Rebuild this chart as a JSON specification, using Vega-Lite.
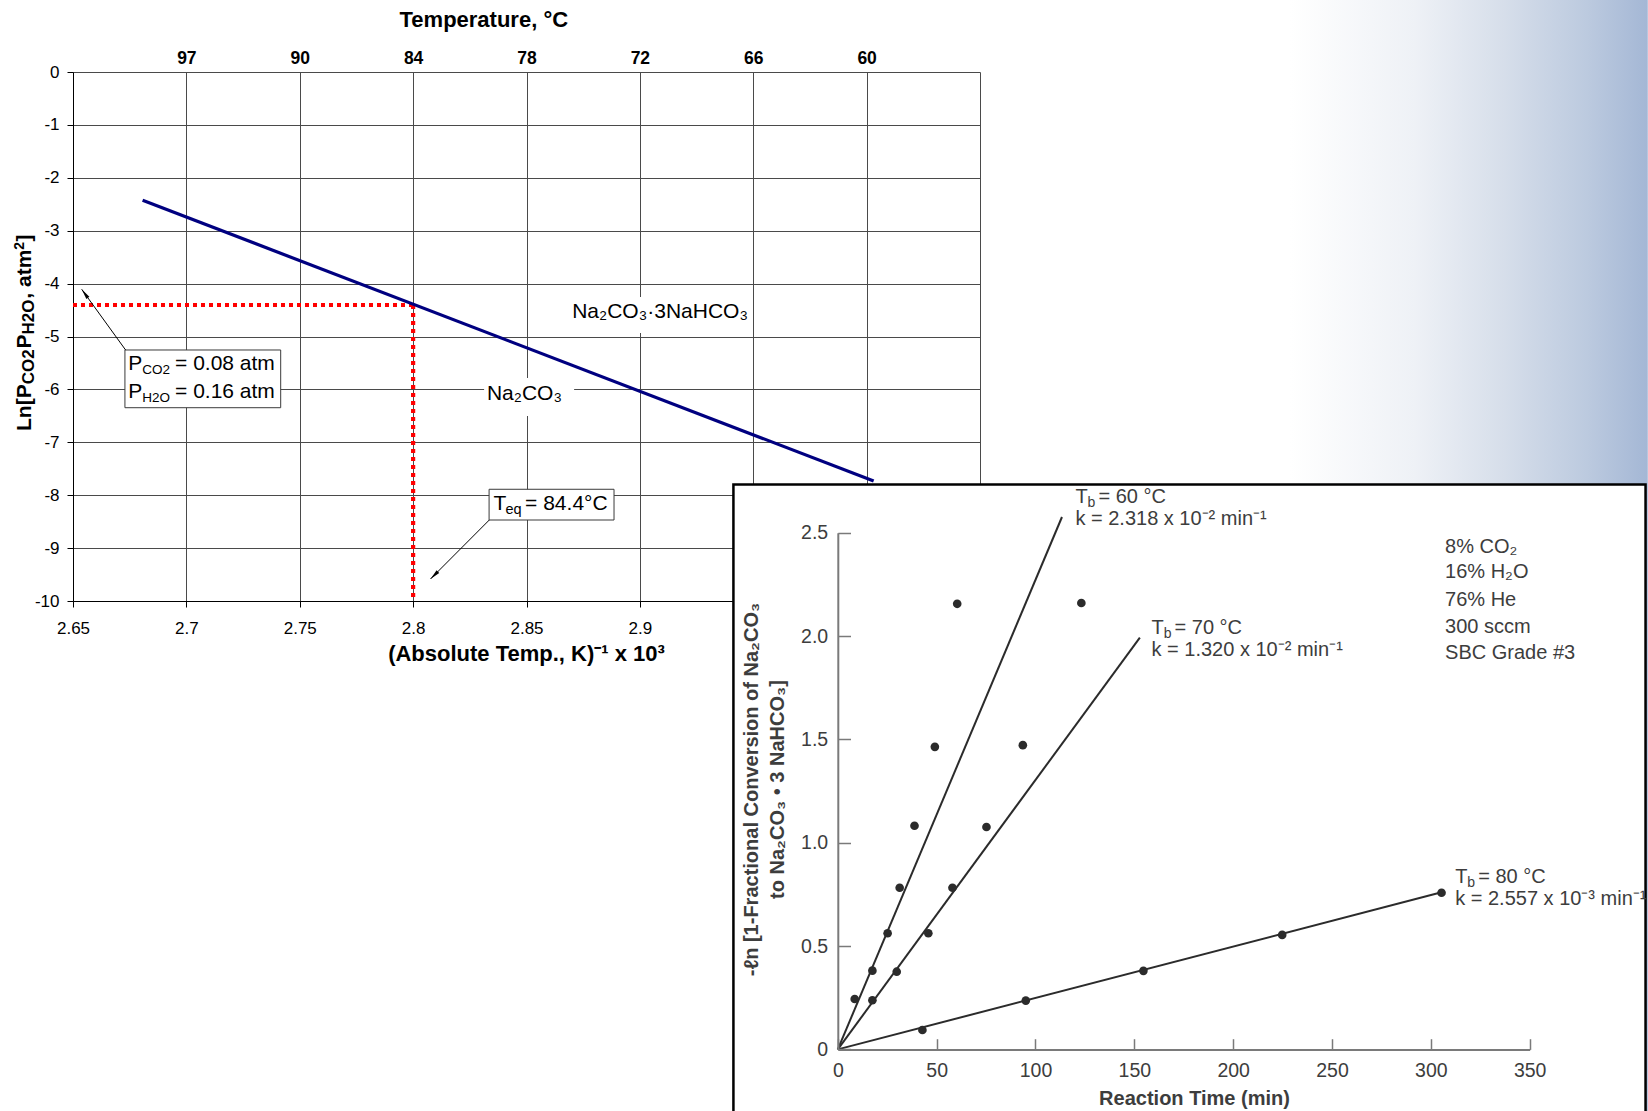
{
  "$schema": "https://vega.github.io/schema/vega-lite/v6.json",
  "width": 907,
  "height": 529,
  "autosize": {"type": "none"},
  "padding": {"left": 73, "top": 72, "right": 668, "bottom": 510},
  "background": "white",
  "config": {
    "view": {"stroke": null},
    "font": "Liberation Sans",
    "axis": {"labelFont": "Liberation Sans", "titleFont": "Liberation Sans", "labelFlush": false, "labelOverlap": false}
  },
  "datasets": {
    "one": [{"k": 1}],
    "eqline": [{"x": 2.6807, "y": -2.425}, {"x": 3.0031, "y": -7.732}],
    "red": [
      {"x": 2.65, "x2": 2.8, "y": -4.405, "y2": -4.405},
      {"x": 2.8, "x2": 2.8, "y": -4.405, "y2": -10}
    ],
    "bgs": [
      {"x": 2.8683, "x2": 2.9494, "y": -4.253, "y2": -4.934},
      {"x": 2.8313, "x2": 2.871, "y": -5.784, "y2": -6.503}
    ],
    "boxes": [
      {"x": 2.6729, "x2": 2.7416, "y": -5.255, "y2": -6.346},
      {"x": 2.8335, "x2": 2.8886, "y": -7.888, "y2": -8.469}
    ],
    "arrows": [
      {"id": "p", "x": 2.6732, "y": -5.255, "x2": 2.65384, "y2": -4.108},
      {"id": "t", "x": 2.83359, "y": -8.469, "x2": 2.80766, "y2": -9.584}
    ],
    "phases": [
      {"x": 2.9089, "y": -4.648, "label": "Na₂CO₃·3NaHCO₃"},
      {"x": 2.8491, "y": -6.206, "label": "Na₂CO₃"}
    ],
    "pbox": [
      {"x": 2.6744, "y": -5.633, "main": "P", "sub": "CO2", "rest": "= 0.08 atm"},
      {"x": 2.6744, "y": -6.157, "main": "P", "sub": "H2O", "rest": "= 0.16 atm"}
    ],
    "teq": [
      {"x": 2.8354, "y": -8.28, "main": "T", "sub": "eq", "rest": "= 84.4°C"}
    ],
    "fits": [
      {"s": "60", "t": 0, "v": 0}, {"s": "60", "t": 113.4, "v": 2.576},
      {"s": "70", "t": 0, "v": 0}, {"s": "70", "t": 152.8, "v": 1.992},
      {"s": "80", "t": 0, "v": 0}, {"s": "80", "t": 305.4, "v": 0.76}
    ],
    "pts": [
      {"s": "60", "t": 8.55, "v": 0.244}, {"s": "60", "t": 17.5, "v": 0.381}, {"s": "60", "t": 25.2, "v": 0.562},
      {"s": "60", "t": 31.3, "v": 0.782}, {"s": "60", "t": 38.8, "v": 1.082}, {"s": "60", "t": 49.1, "v": 1.464},
      {"s": "60", "t": 60.4, "v": 2.156},
      {"s": "70", "t": 17.5, "v": 0.238}, {"s": "70", "t": 29.8, "v": 0.376}, {"s": "70", "t": 45.8, "v": 0.562},
      {"s": "70", "t": 58.0, "v": 0.782}, {"s": "70", "t": 75.2, "v": 1.076}, {"s": "70", "t": 93.6, "v": 1.472},
      {"s": "70", "t": 123.2, "v": 2.16},
      {"s": "80", "t": 42.8, "v": 0.094}, {"s": "80", "t": 95.1, "v": 0.236}, {"s": "80", "t": 154.6, "v": 0.38},
      {"s": "80", "t": 224.8, "v": 0.554}, {"s": "80", "t": 305.4, "v": 0.758}
    ],
    "tb": [
      {"t": 120.2, "v": 2.645, "main": "T", "sub": "b", "rest": "= 60 °C"},
      {"t": 158.7, "v": 2.012, "main": "T", "sub": "b", "rest": "= 70 °C"},
      {"t": 312.3, "v": 0.804, "main": "T", "sub": "b", "rest": "= 80 °C"}
    ],
    "kl": [
      {"t": 120.2, "v": 2.536, "text": "k = 2.318 x 10⁻² min⁻¹"},
      {"t": 158.7, "v": 1.903, "text": "k = 1.320 x 10⁻² min⁻¹"},
      {"t": 312.3, "v": 0.699, "text": "k = 2.557 x 10⁻³ min⁻¹"}
    ],
    "cond": [
      {"t": 307.2, "v": 2.4, "text": "8% CO₂"},
      {"t": 307.2, "v": 2.279, "text": "16% H₂O"},
      {"t": 307.2, "v": 2.145, "text": "76% He"},
      {"t": 307.2, "v": 2.016, "text": "300 sccm"},
      {"t": 307.2, "v": 1.887, "text": "SBC Grade #3"}
    ]
  },
  "layer": [
    {
      "layer": [
        {
          "layer": [
            {
              "data": {"name": "one"},
              "mark": {"type": "rect", "strokeWidth": 0, "fill": {"gradient": "linear", "x1": 0, "y1": 0, "x2": 1, "y2": 0, "stops": [
                {"offset": 0, "color": "#ffffff"}, {"offset": 0.35, "color": "#eef1f6"}, {"offset": 0.6, "color": "#d6deea"},
                {"offset": 0.83, "color": "#bccadf"}, {"offset": 1, "color": "#a4b7d5"}]}},
              "encoding": {
                "x": {"datum": 3.1867, "type": "quantitative"},
                "x2": {"datum": 3.3445},
                "y": {"datum": 1.5, "type": "quantitative"},
                "y2": {"datum": -20}
              }
            },
            {
              "data": {"name": "bgs"},
              "mark": {"type": "rect", "fill": "white", "strokeWidth": 0},
              "encoding": {
                "x": {"field": "x", "type": "quantitative"}, "x2": {"field": "x2"},
                "y": {"field": "y", "type": "quantitative"}, "y2": {"field": "y2"}
              }
            },
            {
              "data": {"name": "red"},
              "mark": {"type": "rule", "color": "#ff0000", "strokeWidth": 4.2, "strokeDash": [4, 4], "strokeCap": "butt"},
              "encoding": {
                "x": {"field": "x", "type": "quantitative"}, "x2": {"field": "x2"},
                "y": {"field": "y", "type": "quantitative"}, "y2": {"field": "y2"}
              }
            },
            {
              "data": {"name": "eqline"},
              "mark": {"type": "line", "color": "#000080", "strokeWidth": 3.2},
              "encoding": {
                "x": {
                  "field": "x", "type": "quantitative",
                  "scale": {"domain": [2.65, 3.05], "nice": false, "zero": false},
                  "axis": {
                    "orient": "bottom", "zindex": 0,
                    "values": [2.65, 2.7, 2.75, 2.8, 2.85, 2.9, 2.95, 3, 3.05],
                    "labelExpr": "toString(datum.value)",
                    "grid": true, "gridColor": "#4a4a4a", "gridWidth": 1, "gridOpacity": 1,
                    "domainColor": "#000000", "domainWidth": 1, "tickColor": "#000000", "tickSize": 6, "tickWidth": 1,
                    "labelFontSize": 17, "labelColor": "#000000", "labelPadding": 13,
                    "title": "(Absolute Temp., K)⁻¹ x 10³", "titleFontSize": 22, "titleFontWeight": "bold", "titleColor": "#000000",
                    "titleX": 453, "titleY": 59, "titleBaseline": "alphabetic", "titleAlign": "center", "titleAnchor": null
                  }
                },
                "y": {
                  "field": "y", "type": "quantitative",
                  "scale": {"domain": [-10, 0], "nice": false, "zero": false},
                  "axis": {
                    "orient": "left", "zindex": 0,
                    "values": [-10, -9, -8, -7, -6, -5, -4, -3, -2, -1, 0],
                    "labelExpr": "toString(datum.value)",
                    "grid": true, "gridColor": "#4a4a4a", "gridWidth": 1, "gridOpacity": 1,
                    "domainColor": "#000000", "domainWidth": 1, "tickColor": "#000000", "tickSize": 6, "tickWidth": 1,
                    "labelFontSize": 17, "labelColor": "#000000", "labelPadding": 8,
                    "title": null
                  }
                }
              }
            },
            {
              "data": {"name": "boxes"},
              "mark": {"type": "rect", "fill": "white", "stroke": "#3a3a3a", "strokeWidth": 1},
              "encoding": {
                "x": {"field": "x", "type": "quantitative"}, "x2": {"field": "x2"},
                "y": {"field": "y", "type": "quantitative"}, "y2": {"field": "y2"}
              }
            },
            {
              "data": {"name": "arrows"},
              "mark": {"type": "rule", "color": "#000000", "strokeWidth": 1},
              "encoding": {
                "x": {"field": "x", "type": "quantitative"}, "x2": {"field": "x2"},
                "y": {"field": "y", "type": "quantitative"}, "y2": {"field": "y2"}
              }
            },
            {
              "data": {"name": "arrows"},
              "transform": [{"filter": "datum.id === 'p'"}],
              "mark": {"type": "point", "shape": "M0,0L0.35,2L-0.35,2Z", "filled": true, "color": "#000000", "opacity": 1, "size": 110, "angle": 324},
              "encoding": {
                "x": {"field": "x2", "type": "quantitative"},
                "y": {"field": "y2", "type": "quantitative"}
              }
            },
            {
              "data": {"name": "arrows"},
              "transform": [{"filter": "datum.id === 't'"}],
              "mark": {"type": "point", "shape": "M0,0L0.35,2L-0.35,2Z", "filled": true, "color": "#000000", "opacity": 1, "size": 110, "angle": 225},
              "encoding": {
                "x": {"field": "x2", "type": "quantitative"},
                "y": {"field": "y2", "type": "quantitative"}
              }
            },
            {
              "data": {"name": "phases"},
              "mark": {"type": "text", "align": "center", "baseline": "alphabetic", "fontSize": 21, "color": "#000000"},
              "encoding": {
                "x": {"field": "x", "type": "quantitative"},
                "y": {"field": "y", "type": "quantitative"},
                "text": {"field": "label"}
              }
            },
            {
              "data": {"name": "pbox"},
              "mark": {"type": "text", "align": "left", "baseline": "alphabetic", "fontSize": 21, "color": "#000000"},
              "encoding": {"x": {"field": "x", "type": "quantitative"}, "y": {"field": "y", "type": "quantitative"}, "text": {"field": "main"}}
            },
            {
              "data": {"name": "pbox"},
              "mark": {"type": "text", "align": "left", "baseline": "alphabetic", "fontSize": 13.5, "dx": 14, "dy": 4, "color": "#000000"},
              "encoding": {"x": {"field": "x", "type": "quantitative"}, "y": {"field": "y", "type": "quantitative"}, "text": {"field": "sub"}}
            },
            {
              "data": {"name": "pbox"},
              "mark": {"type": "text", "align": "left", "baseline": "alphabetic", "fontSize": 21, "dx": 46.7, "color": "#000000"},
              "encoding": {"x": {"field": "x", "type": "quantitative"}, "y": {"field": "y", "type": "quantitative"}, "text": {"field": "rest"}}
            },
            {
              "data": {"name": "teq"},
              "mark": {"type": "text", "align": "left", "baseline": "alphabetic", "fontSize": 21, "color": "#000000"},
              "encoding": {"x": {"field": "x", "type": "quantitative"}, "y": {"field": "y", "type": "quantitative"}, "text": {"field": "main"}}
            },
            {
              "data": {"name": "teq"},
              "mark": {"type": "text", "align": "left", "baseline": "alphabetic", "fontSize": 14.5, "dx": 12, "dy": 4.3, "color": "#000000"},
              "encoding": {"x": {"field": "x", "type": "quantitative"}, "y": {"field": "y", "type": "quantitative"}, "text": {"field": "sub"}}
            },
            {
              "data": {"name": "teq"},
              "mark": {"type": "text", "align": "left", "baseline": "alphabetic", "fontSize": 21, "dx": 31.7, "color": "#000000"},
              "encoding": {"x": {"field": "x", "type": "quantitative"}, "y": {"field": "y", "type": "quantitative"}, "text": {"field": "rest"}}
            },
            {
              "data": {"name": "one"},
              "mark": {"type": "text", "text": "Ln[P", "angle": 270, "align": "left", "baseline": "alphabetic", "fontSize": 21, "fontWeight": "bold", "color": "#000000", "dx": 0},
              "encoding": {"x": {"datum": 2.63135, "type": "quantitative"}, "y": {"datum": -6.786, "type": "quantitative"}}
            },
            {
              "data": {"name": "one"},
              "mark": {"type": "text", "text": "CO2", "angle": 270, "align": "left", "baseline": "alphabetic", "fontSize": 17, "fontWeight": "bold", "color": "#000000", "dx": 46.7, "dy": 3.5},
              "encoding": {"x": {"datum": 2.63135, "type": "quantitative"}, "y": {"datum": -6.786, "type": "quantitative"}}
            },
            {
              "data": {"name": "one"},
              "mark": {"type": "text", "text": "P", "angle": 270, "align": "left", "baseline": "alphabetic", "fontSize": 21, "fontWeight": "bold", "color": "#000000", "dx": 82.5},
              "encoding": {"x": {"datum": 2.63135, "type": "quantitative"}, "y": {"datum": -6.786, "type": "quantitative"}}
            },
            {
              "data": {"name": "one"},
              "mark": {"type": "text", "text": "H2O", "angle": 270, "align": "left", "baseline": "alphabetic", "fontSize": 17, "fontWeight": "bold", "color": "#000000", "dx": 96.5, "dy": 3.5},
              "encoding": {"x": {"datum": 2.63135, "type": "quantitative"}, "y": {"datum": -6.786, "type": "quantitative"}}
            },
            {
              "data": {"name": "one"},
              "mark": {"type": "text", "text": ", atm", "angle": 270, "align": "left", "baseline": "alphabetic", "fontSize": 21, "fontWeight": "bold", "color": "#000000", "dx": 132.3},
              "encoding": {"x": {"datum": 2.63135, "type": "quantitative"}, "y": {"datum": -6.786, "type": "quantitative"}}
            },
            {
              "data": {"name": "one"},
              "mark": {"type": "text", "text": "2", "angle": 270, "align": "left", "baseline": "alphabetic", "fontSize": 14, "fontWeight": "bold", "color": "#000000", "dx": 181.3, "dy": -7},
              "encoding": {"x": {"datum": 2.63135, "type": "quantitative"}, "y": {"datum": -6.786, "type": "quantitative"}}
            },
            {
              "data": {"name": "one"},
              "mark": {"type": "text", "text": "]", "angle": 270, "align": "left", "baseline": "alphabetic", "fontSize": 21, "fontWeight": "bold", "color": "#000000", "dx": 189.5},
              "encoding": {"x": {"datum": 2.63135, "type": "quantitative"}, "y": {"datum": -6.786, "type": "quantitative"}}
            }
          ]
        },
        {
          "data": {"name": "eqline"},
          "mark": {"type": "rule", "strokeOpacity": 0},
          "encoding": {
            "x": {
              "field": "x", "type": "quantitative",
              "axis": {
                "orient": "top", "zindex": 0,
                "values": [2.7, 2.75, 2.8, 2.85, 2.9, 2.95, 3],
                "labelExpr": "format(1000 / datum.value - 273.15, '.0f')",
                "ticks": false, "domain": false, "grid": false,
                "labelFontSize": 17.5, "labelFontWeight": "bold", "labelColor": "#000000", "labelPadding": 5,
                "title": "Temperature, °C", "titleFontSize": 22, "titleFontWeight": "bold", "titleColor": "#000000",
                "titleX": 410.3, "titleY": -45.3, "titleBaseline": "alphabetic", "titleAlign": "center", "titleAnchor": null
              }
            }
          }
        }
      ],
      "resolve": {"axis": {"x": "independent"}}
    },
    {
      "layer": [
        {
          "data": {"name": "one"},
          "mark": {"type": "rect", "fill": "white", "stroke": "#000000", "strokeWidth": 2.5},
          "encoding": {
            "x": {"datum": -52.8, "type": "quantitative"},
            "x2": {"datum": 408.6},
            "y": {"datum": 2.733, "type": "quantitative"},
            "y2": {"datum": -0.4}
          }
        },
        {
          "data": {"name": "fits"},
          "mark": {"type": "line", "color": "#2b2b2b", "strokeWidth": 2},
          "encoding": {
            "x": {"field": "t", "type": "quantitative"},
            "y": {"field": "v", "type": "quantitative"},
            "detail": {"field": "s"}
          }
        },
        {
          "data": {"name": "pts"},
          "mark": {"type": "point", "filled": true, "size": 75, "color": "#2b2b2b", "opacity": 1},
          "encoding": {
            "x": {
              "field": "t", "type": "quantitative",
              "scale": {"domain": [0, 350], "range": [764.8, 1456.7], "nice": false, "zero": false},
              "axis": {
                "orient": "bottom", "offset": 448.4, "zindex": 1,
                "values": [0, 50, 100, 150, 200, 250, 300, 350],
                "grid": false, "tickSize": -10.7, "tickColor": "#7a7a7a", "tickWidth": 1.5,
                "domainColor": "#7a7a7a", "domainWidth": 2,
                "labelFontSize": 19.5, "labelColor": "#3d3d3d", "labelPadding": 22.6,
                "title": "Reaction Time (min)", "titleFontSize": 20, "titleFontWeight": "bold", "titleColor": "#3d3d3d",
                "titleX": 1121, "titleY": 55.3, "titleBaseline": "alphabetic", "titleAlign": "center", "titleAnchor": null
              }
            },
            "y": {
              "field": "v", "type": "quantitative",
              "scale": {"domain": [0, 2.5], "range": [977.4, 460.7], "nice": false, "zero": false},
              "axis": {
                "orient": "left", "offset": -764.8, "zindex": 1,
                "values": [0, 0.5, 1, 1.5, 2, 2.5],
                "labelExpr": "datum.value === 0 ? '0' : format(datum.value, '.1f')",
                "grid": false, "tickSize": -12.7, "tickColor": "#7a7a7a", "tickWidth": 1.5,
                "domainColor": "#7a7a7a", "domainWidth": 2,
                "labelFontSize": 19.5, "labelColor": "#3d3d3d", "labelPadding": 22.8,
                "title": ["-ℓn [1-Fractional Conversion of Na₂CO₃", "to Na₂CO₃ • 3 NaHCO₃]"],
                "titleFontSize": 20, "titleFontWeight": "bold", "titleColor": "#3d3d3d",
                "titleAngle": 270, "titleX": -80.8, "titleY": 717, "titleAlign": "center", "titleBaseline": "alphabetic",
                "titleLineHeight": 26, "titleAnchor": null
              }
            }
          }
        },
        {
          "data": {"name": "tb"},
          "mark": {"type": "text", "align": "left", "baseline": "alphabetic", "fontSize": 20, "color": "#3d3d3d"},
          "encoding": {"x": {"field": "t", "type": "quantitative"}, "y": {"field": "v", "type": "quantitative"}, "text": {"field": "main"}}
        },
        {
          "data": {"name": "tb"},
          "mark": {"type": "text", "align": "left", "baseline": "alphabetic", "fontSize": 14, "dx": 12.2, "dy": 4, "color": "#3d3d3d"},
          "encoding": {"x": {"field": "t", "type": "quantitative"}, "y": {"field": "v", "type": "quantitative"}, "text": {"field": "sub"}}
        },
        {
          "data": {"name": "tb"},
          "mark": {"type": "text", "align": "left", "baseline": "alphabetic", "fontSize": 20, "dx": 23, "color": "#3d3d3d"},
          "encoding": {"x": {"field": "t", "type": "quantitative"}, "y": {"field": "v", "type": "quantitative"}, "text": {"field": "rest"}}
        },
        {
          "data": {"name": "kl"},
          "mark": {"type": "text", "align": "left", "baseline": "alphabetic", "fontSize": 20, "color": "#3d3d3d"},
          "encoding": {"x": {"field": "t", "type": "quantitative"}, "y": {"field": "v", "type": "quantitative"}, "text": {"field": "text"}}
        },
        {
          "data": {"name": "cond"},
          "mark": {"type": "text", "align": "left", "baseline": "alphabetic", "fontSize": 20, "color": "#3d3d3d"},
          "encoding": {"x": {"field": "t", "type": "quantitative"}, "y": {"field": "v", "type": "quantitative"}, "text": {"field": "text"}}
        }
      ]
    }
  ],
  "resolve": {"scale": {"x": "independent", "y": "independent"}}
}
